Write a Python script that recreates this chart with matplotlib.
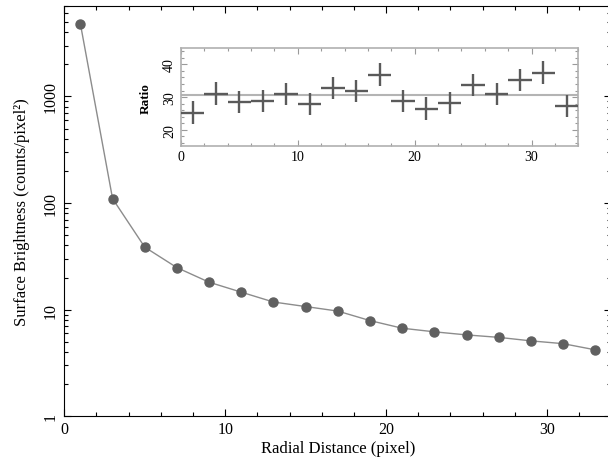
"""Radial surface brightness profile with a ratio inset."""

import matplotlib
matplotlib.use('Agg')
import matplotlib.pyplot as plt
from matplotlib.ticker import MultipleLocator, FixedLocator

plt.rcParams['font.family'] = ['Liberation Serif', 'DejaVu Serif']
plt.rcParams['mathtext.fontset'] = 'stix'

# main profile
radius = [1, 3, 5, 7, 9, 11, 13, 15, 17, 19, 21, 23, 25, 27, 29, 31, 33]
brightness = [4800, 110, 38.6, 24.8, 18.1, 14.6, 11.8, 10.7, 9.7, 7.9,
              6.7, 6.2, 5.8, 5.5, 5.1, 4.8, 4.2]

# inset ratio
ratio = [25.3, 31.1, 28.6, 28.8, 31.0, 27.8, 32.8, 31.8, 36.9, 28.8,
         26.5, 28.3, 33.7, 31.0, 35.3, 37.5, 27.3]
ratio_err = [3.4, 3.4, 3.4, 3.4, 3.4, 3.4, 3.4, 3.4, 3.4, 3.4,
             3.4, 3.4, 3.4, 3.4, 3.4, 3.4, 3.4]
radius_err = [1] * len(radius)
mean_ratio = 30.8

fig = plt.figure(figsize=(6.08, 4.6), dpi=100)
ax = fig.add_axes([64.3 / 608, 42.7 / 460, 547.1 / 608, 410.6 / 460])
ax.plot(radius, brightness, color='#8c8c8c', lw=1.0, zorder=2)
ax.plot(radius, brightness, 'o', color='#606060', ms=6.5, zorder=3)
ax.set_yscale('log')
ax.set_xlim(0, 34)
ax.set_ylim(1, 7100)
ax.xaxis.set_major_locator(MultipleLocator(10))
ax.xaxis.set_minor_locator(MultipleLocator(2))
ax.yaxis.set_major_locator(FixedLocator([1, 10, 100, 1000]))
ax.set_yticklabels(['1', '10', '100', '1000'])
ax.tick_params(which='both', direction='in', top=True, right=True,
               labelsize=11.5, width=0.8)
ax.tick_params(which='major', length=5)
ax.tick_params(which='minor', length=3)
ax.tick_params(axis='y', labelrotation=90, pad=4)
for lab in ax.get_yticklabels():
    lab.set_va('center')
ax.set_xlabel('Radial Distance (pixel)', fontsize=12, labelpad=2)
ax.set_ylabel('Surface Brightness (counts/pixel²)', fontsize=12, labelpad=9)

# inset
ins = fig.add_axes([181 / 608, 312.7 / 460, 397.3 / 608, 98.3 / 460])
ins.errorbar(radius, ratio, xerr=radius_err, yerr=ratio_err, fmt='none',
             ecolor='#5a5a5a', elinewidth=1.7, capsize=0, zorder=3)
ins.axhline(mean_ratio, color='#b4b4b4', lw=1.5, zorder=2)
ins.set_xlim(0, 34)
ins.set_ylim(15, 45)
ins.xaxis.set_major_locator(MultipleLocator(10))
ins.xaxis.set_minor_locator(MultipleLocator(2))
ins.yaxis.set_major_locator(MultipleLocator(10))
ins.yaxis.set_minor_locator(MultipleLocator(2))
ins.tick_params(which='both', direction='in', top=True, right=True,
                labelsize=10, color='#9a9a9a', width=0.8, pad=3)
ins.tick_params(which='major', length=4)
ins.tick_params(which='minor', length=2)
ins.tick_params(axis='y', labelrotation=90, pad=3.5)
for lab in ins.get_yticklabels():
    lab.set_va('center')
for spine in ins.spines.values():
    spine.set_color('#b0b0b0')
    spine.set_linewidth(1.2)
ins.set_ylabel('Ratio', fontsize=9.5, fontweight='bold', labelpad=8)

fig.savefig('out.png', dpi=100)
plt.close(fig)
